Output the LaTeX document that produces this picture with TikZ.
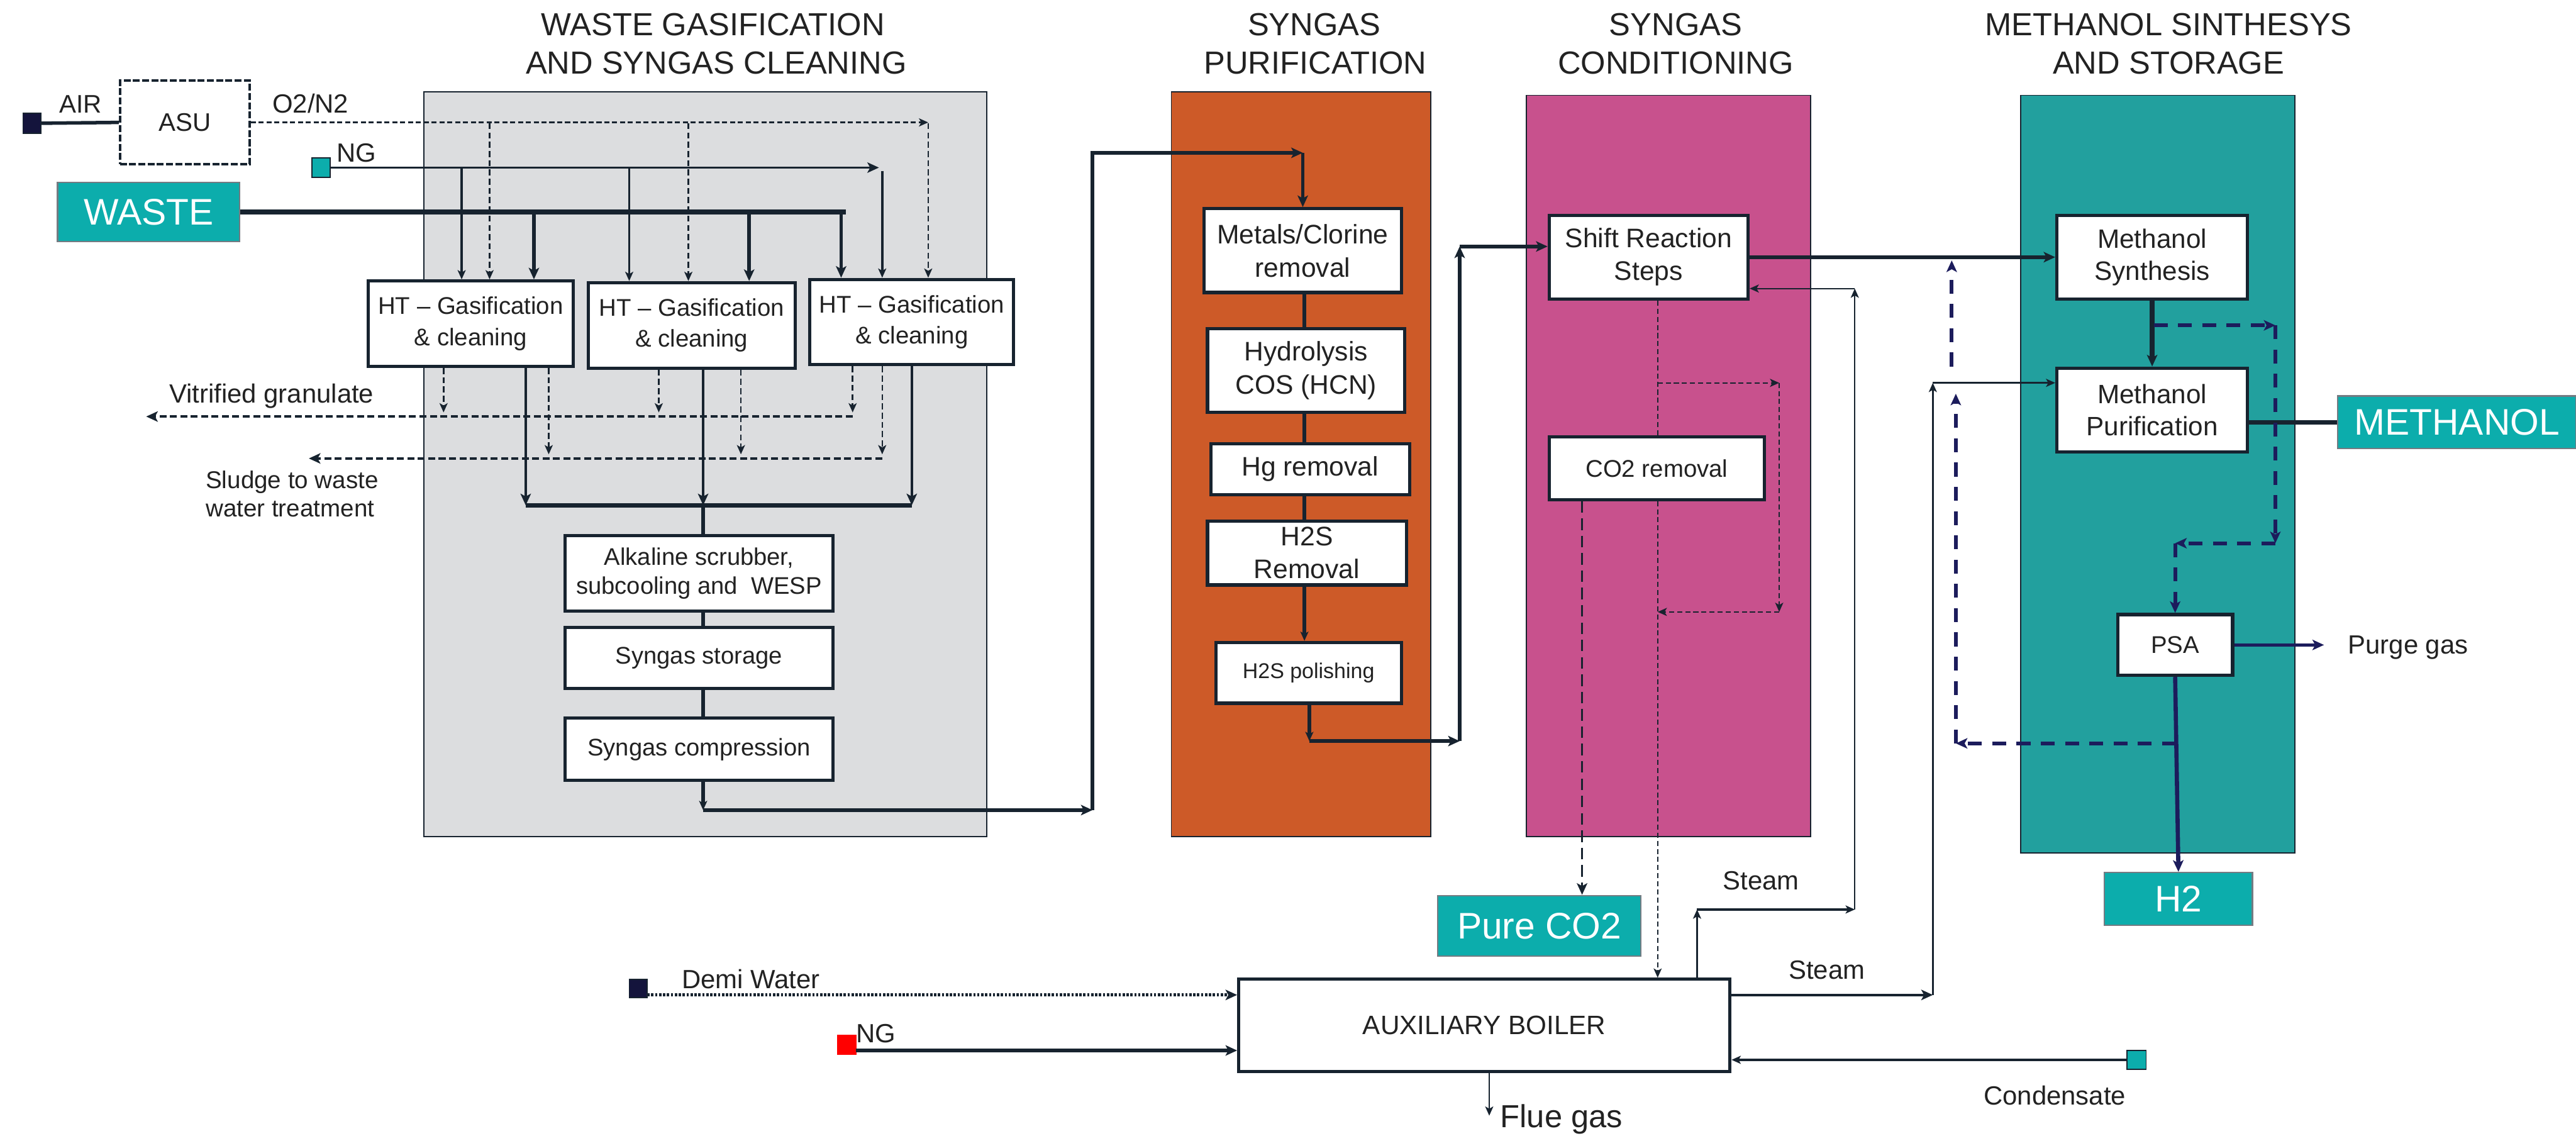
\documentclass[tikz,border=0pt]{standalone}
\usepackage{fontspec}
\setmainfont{Liberation Sans}
\usetikzlibrary{arrows.meta}
\definecolor{ln}{HTML}{17232F}
\definecolor{nv}{HTML}{1C1C5C}
\definecolor{txt}{HTML}{222222}
\definecolor{grayp}{HTML}{DCDDDF}
\definecolor{orp}{HTML}{CD5A28}
\definecolor{pkp}{HTML}{C8518D}
\definecolor{tlp}{HTML}{22A09E}
\definecolor{tlb}{HTML}{0CADAC}
\definecolor{sqn}{HTML}{14143C}
\newcommand\fs[2]{\fontsize{#1pt}{#2pt}\selectfont}
\begin{document}
\begin{tikzpicture}[x=0.025cm,y=-0.025cm,
  sz/.style 2 args={minimum width=#1*0.025cm,minimum height=#2*0.025cm},
  panel/.style={draw=ln,line width=0.5pt,inner sep=0pt},
  box/.style={draw=ln,line width=1.4pt,fill=white,align=center,inner sep=0pt,text=txt,font=\fs{11.5}{14.2}},
  prod/.style={draw=ln!60,line width=0.6pt,fill=tlb,text=white,inner sep=0pt,font=\fs{16}{19}},
  sq/.style={draw=ln,line width=0.5pt,inner sep=0pt},
  lbl/.style={text=txt,inner sep=0pt,anchor=base,font=\fs{11.4}{14}},
  ttl/.style={text=txt,inner sep=0pt,anchor=base,font=\fs{13.8}{16.4}},
  tip/.style={-{Stealth[length=5pt,width=4.5pt,inset=1.2pt]}},
  stip/.style={-{Stealth[length=4pt,width=3.5pt,inset=1pt]}},
  thk/.style={draw=ln,line width=1.5pt},
  vthk/.style={draw=ln,line width=2pt},
  med/.style={draw=ln,line width=1pt},
  thn/.style={draw=ln,line width=0.65pt},
  dshT/.style={draw=ln,line width=0.6pt,dash pattern=on 2.2pt off 1.3pt},
  dshH/.style={draw=ln,line width=0.8pt,dash pattern=on 2.2pt off 1.2pt},
  dshV/.style={draw=ln,line width=0.7pt,dash pattern=on 2.6pt off 1.4pt},
  dshM/.style={draw=ln,line width=1pt,dash pattern=on 3pt off 1.5pt},
  dshL/.style={draw=ln,line width=1pt,dash pattern=on 5pt off 2.5pt},
  nvd/.style={draw=nv,line width=1.6pt,dash pattern=on 6pt off 4.5pt},
  nvs/.style={draw=nv,line width=1.3pt},
  dots/.style={draw=ln,line width=1.3pt,dash pattern=on 1pt off 0.7pt},
]
\useasboundingbox (0,0) rectangle (1568,691);
\fill[white] (0,0) rectangle (1568,691);

% ---------- panels
\node[panel,fill=grayp,sz={342.5}{453}] (pG) at (429.25,282.5) {};
\node[panel,fill=orp,sz={158}{453}] (pO) at (792,282.5) {};
\node[panel,fill=pkp,sz={173}{451}] (pP) at (1015.5,283.5) {};
\node[panel,fill=tlp,sz={167}{461}] (pT) at (1313.5,288.5) {};

% ---------- titles
\node[ttl] (t1a) at (434,21.7) {WASTE GASIFICATION};
\node[ttl] (t1b) at (436,45) {AND SYNGAS CLEANING};
\node[ttl] (t2a) at (800,21.7) {SYNGAS};
\node[ttl] (t2b) at (800.6,45) {PURIFICATION};
\node[ttl] (t3a) at (1020,21.7) {SYNGAS};
\node[ttl] (t3b) at (1020,45) {CONDITIONING};
\node[ttl] (t4a) at (1320,21.7) {METHANOL SINTHESYS};
\node[ttl] (t4b) at (1320,45) {AND STORAGE};

% ---------- boxes
\node[box,sz={79}{51},dash pattern=on 3pt off 1pt,line width=1pt,font=\fs{11}{13}] (ASU) at (112.5,74.5) {ASU};
\node[prod,sz={111}{36}] (WASTE) at (90.5,129) {WASTE};
\node[box,sz={125}{52},font=\fs{10.45}{13.5}] (HT1) at (286.5,197) {HT -- Gasification\\\& cleaning};
\node[box,sz={126}{52},font=\fs{10.45}{13.5}] (HT2) at (421,198) {HT -- Gasification\\\& cleaning};
\node[box,sz={124}{52},font=\fs{10.45}{13.5}] (HT3) at (555,196) {HT -- Gasification\\\& cleaning};
\node[box,sz={163}{46},font=\fs{10.4}{12.5}] (Alk) at (425.5,349) {Alkaline scrubber,\\subcooling and\ \ WESP};
\node[box,sz={163}{37},font=\fs{10.4}{12.5}] (Stor) at (425.5,400.5) {Syngas storage};
\node[box,sz={163}{38},font=\fs{10.4}{12.5}] (Comp) at (425.5,456) {Syngas compression};

\node[box,sz={120}{51},font=\fs{11.6}{14.4}] (Metals) at (793,152.5) {Metals/Clorine\\removal};
\node[box,sz={120}{51},font=\fs{11.6}{14.4}] (Hydro) at (795,225.5) {Hydrolysis\\COS (HCN)};
\node[box,sz={121}{31},font=\fs{11.6}{14.4}] (Hg) at (797.5,285.5) {Hg removal};
\node[box,sz={121}{39},font=\fs{11.6}{14.2}] (H2SR) at (795.5,336.5) {H2S\\Removal};
\node[box,sz={113}{37},font=\fs{9.25}{11}] (H2SP) at (796.5,409.5) {H2S polishing};

\node[box,sz={121}{51},font=\fs{11.6}{14.2}] (Shift) at (1003.5,156.5) {Shift Reaction\\Steps};
\node[box,sz={131}{38},font=\fs{10.45}{12.5}] (CO2R) at (1008.5,285) {CO2 removal};
\node[prod,sz={123.5}{37}] (PureCO2) at (937,563.5) {Pure CO2};

\node[box,sz={116}{51},font=\fs{11.5}{14}] (MS) at (1310,156.5) {Methanol\\Synthesis};
\node[box,sz={116}{51},font=\fs{11.5}{14}] (MP) at (1310,249.5) {Methanol\\Purification};
\node[box,sz={70}{37},font=\fs{10.45}{12.5}] (PSA) at (1324,392.5) {PSA};
\node[prod,sz={90}{32}] (H2) at (1326,547) {H2};
\node[prod,sz={145}{32}] (METH) at (1495.5,257) {METHANOL};

\node[box,sz={299}{56},font=\fs{11.5}{14}] (Boiler) at (903.5,624) {AUXILIARY BOILER};

% ---------- small squares
\node[sq,fill=sqn,sz={11}{12}] (airsq) at (19.5,75) {};
\node[sq,fill=tlb,sz={11}{12}] (ngsq) at (195.5,102) {};
\node[sq,fill=sqn,sz={11}{11}] (demisq) at (388.5,601.5) {};
\node[sq,draw=red,fill=red,sz={11}{11.5}] (ngred) at (515.5,635.7) {};
\node[sq,fill=tlb,sz={11.7}{11.6}] (condsq) at (1300.5,645) {};

% ---------- labels
\node[lbl,font=\fs{11}{13}] (lAIR) at (49,68.7) {AIR};
\node[lbl] (lO2) at (189,68.7) {O2/N2};
\node[lbl] (lNG) at (217,98.6) {NG};
\node[lbl] (lVit) at (165.3,245) {Vitrified granulate};
\node[lbl,anchor=base west,font=\fs{10.5}{13}] (lSl1) at (125,297.3) {Sludge to waste};
\node[lbl,anchor=base west,font=\fs{10.5}{13}] (lSl2) at (125,314.6) {water treatment};
\node[lbl] (lSt1) at (1072,541.5) {Steam};
\node[lbl] (lSt2) at (1112,596) {Steam};
\node[lbl] (lCond) at (1250.7,672.3) {Condensate};
\node[lbl,anchor=base west] (lDemi) at (414.8,601.6) {Demi Water};
\node[lbl,anchor=base west] (lNG2) at (521,634.4) {NG};
\node[lbl,anchor=base west,font=\fs{13.8}{16}] (lFlue) at (913,686) {Flue gas};
\node[lbl,anchor=base west] (lPurge) at (1429,398) {Purge gas};

% ---------- left feeds
\draw[thk] (airsq.east) -- (ASU.west);
\coordinate (o2c) at (565,75);
\coordinate (o2a) at (298,75);
\coordinate (o2b) at (419,75);
\draw[dshH,stip] (ASU.east) -- (ASU.east -| o2c);
\draw[dshV,stip] (o2c) -- (HT3.north -| o2c);
\draw[dshV,stip] (o2a) -- (HT1.north -| o2a);
\draw[dshV,stip] (o2b) -- (HT2.north -| o2b);

\coordinate (ngend) at (535,102);
\draw[med,tip] (ngsq.east) -- (ngsq.east -| ngend);
\coordinate (ng1) at (281,102);
\coordinate (ng2) at (383,102);
\coordinate (ng3) at (537,104);
\draw[med,stip] (ng1) -- (HT1.north -| ng1);
\draw[med,stip] (ng2) -- (HT2.north -| ng2);
\draw[med,stip] (ng3) -- (HT3.north -| ng3);

\coordinate (wend) at (515,129);
\draw[vthk] (WASTE.east) -- (WASTE.east -| wend);
\coordinate (w1) at (325,129);
\coordinate (w2) at (456,129);
\coordinate (w3) at (512,129);
\draw[thk,tip] (w1) -- (HT1.north -| w1);
\draw[thk,tip] (w2) -- (HT2.north -| w2);
\draw[thk,tip] (w3) -- (HT3.north -| w3);

% ---------- below gasifiers
\coordinate (vl) at (89,253.5);
\coordinate (vr) at (519,253.5);
\draw[dshM,tip] (vr) -- (vl);
\coordinate (v1) at (270,251);
\coordinate (v2) at (401,251);
\coordinate (v3) at (519,251);
\draw[dshV,stip] (HT1.south -| v1) -- (v1);
\draw[dshV,stip] (HT2.south -| v2) -- (v2);
\draw[dshV,stip] (HT3.south -| v3) -- (v3);

\coordinate (sl) at (188,279);
\coordinate (sr) at (537,279);
\draw[dshM,tip] (sr) -- (sl);
\coordinate (d1) at (334,276.5);
\coordinate (d2) at (451,276.5);
\coordinate (d3) at (537,276.5);
\draw[dshV,stip] (HT1.south -| d1) -- (d1);
\draw[dshV,stip] (HT2.south -| d2) -- (d2);
\draw[dshV,stip] (HT3.south -| d3) -- (d3);

\coordinate (c1) at (320,307.5);
\coordinate (c2) at (428,307.5);
\coordinate (c3) at (555,307.5);
\draw[vthk] (c1) -- (c3);
\draw[med,tip] (HT1.south -| c1) -- (c1);
\draw[med,tip] (HT2.south -| c2) -- (c2);
\draw[med,tip] (HT3.south -| c3) -- (c3);
\draw[thk] (c2) -- (Alk.north -| c2);
\draw[thk] (Alk.south -| c2) -- (Stor.north -| c2);
\draw[thk] (Stor.south -| c2) -- (Comp.north -| c2);

\coordinate (k1) at (428,493);
\coordinate (k2) at (665,493);
\coordinate (k3) at (665,93);
\coordinate (k4) at (793,93);
\draw[thk,stip] (Comp.south -| k1) -- (k1);
\draw[thk,tip] (k1) -- (k2);
\draw[thk,tip] (k2) -- (k3) -- (k4);
\draw[thk,tip] (k4) -- (Metals.north -| k4);

% ---------- purification chain
\coordinate (ox) at (794,0);
\draw[thk] (Metals.south -| ox) -- (Hydro.north -| ox);
\draw[thk] (Hydro.south -| ox) -- (Hg.north -| ox);
\draw[thk] (Hg.south -| ox) -- (H2SR.north -| ox);
\draw[thk,stip] (H2SR.south -| ox) -- (H2SP.north -| ox);
\coordinate (p1) at (797,451);
\coordinate (p2) at (888.5,451);
\coordinate (p3) at (888.5,150);
\draw[thk,stip] (H2SP.south -| p1) -- (p1);
\draw[thk,tip] (p1) -- (p2);
\draw[thk,tip] (p2) -- (p3);
\draw[thk,tip] (p3) -- (p3 -| Shift.west);

% ---------- conditioning
\draw[thk,tip] (Shift.east) -- (MS.west);
\coordinate (q0) at (1009,0);
\draw[dshT] (Shift.south -| q0) -- (CO2R.north -| q0);
\coordinate (q1) at (1009,233);
\coordinate (q2) at (1083,233);
\coordinate (q3) at (1083,372.4);
\coordinate (q4) at (1009,372.4);
\draw[dshT,stip] (q1) -- (q2);
\draw[dshT,stip] (q2) -- (q3);
\draw[dshT,stip] (q3) -- (q4);
\draw[dshT,stip] (CO2R.south -| q0) -- (Boiler.north -| q0);
\coordinate (q5) at (963,0);
\draw[dshL,tip] (CO2R.south -| q5) -- (PureCO2.north -| q5);

% ---------- steam lines
\coordinate (s1) at (1033,553.5);
\coordinate (s2) at (1129,553.5);
\coordinate (s3) at (1129,175.6);
\draw[thn,stip] (Boiler.north -| s1) -- (s1);
\draw[med,stip] (s1) -- (s2);
\draw[thn,stip] (s2) -- (s3);
\draw[thn,stip] (s3) -- (s3 -| Shift.east);

\coordinate (m1) at (1176.5,605.5);
\coordinate (m2) at (1176.5,233);
\draw[med,tip] (Boiler.east |- m1) -- (m1);
\draw[thn,stip] (m1) -- (m2);
\draw[thn,stip] (m2) -- (m2 -| MP.west);

% ---------- methanol section
\draw[vthk,tip] (MS.south) -- (MP.north);
\draw[vthk] (MP.east |- METH.west) -- (METH.west);

\coordinate (n1) at (1311,198);
\coordinate (n2) at (1385,198);
\coordinate (n3) at (1385,330.6);
\coordinate (n4) at (1324,330.6);
\draw[nvd,tip] (n1) -- (n2);
\draw[nvd,tip] (n2) -- (n3);
\draw[nvd,tip] (n3) -- (n4);
\draw[nvd,tip] (n4) -- (PSA.north);

\coordinate (pg) at (1414.6,392.5);
\draw[nvs,tip] (PSA.east) -- (pg);
\draw[draw=nv,line width=1.8pt,tip] (PSA.south) -- (H2.north);

\coordinate (r1) at (1324.5,452.4);
\coordinate (r2) at (1190.5,452.4);
\coordinate (r3) at (1190.5,239.6);
\coordinate (r4) at (1188,223);
\coordinate (r5) at (1188,158.5);
\draw[nvd,tip] (r1) -- (r2);
\draw[nvd,tip] (r2) -- (r3);
\draw[nvd,tip] (r4) -- (r5);

% ---------- boiler connections
\coordinate (dw) at (394,605.5);
\draw[dots,tip] (dw) -- (Boiler.west |- dw);
\coordinate (ngr) at (521,639.3);
\draw[thk,tip] (ngr) -- (Boiler.west |- ngr);
\coordinate (fg) at (906.5,679);
\draw[thn,stip] (Boiler.south -| fg) -- (fg);
\draw[med,stip] (condsq.west) -- (Boiler.east |- condsq.west);
\end{tikzpicture}
\end{document}
